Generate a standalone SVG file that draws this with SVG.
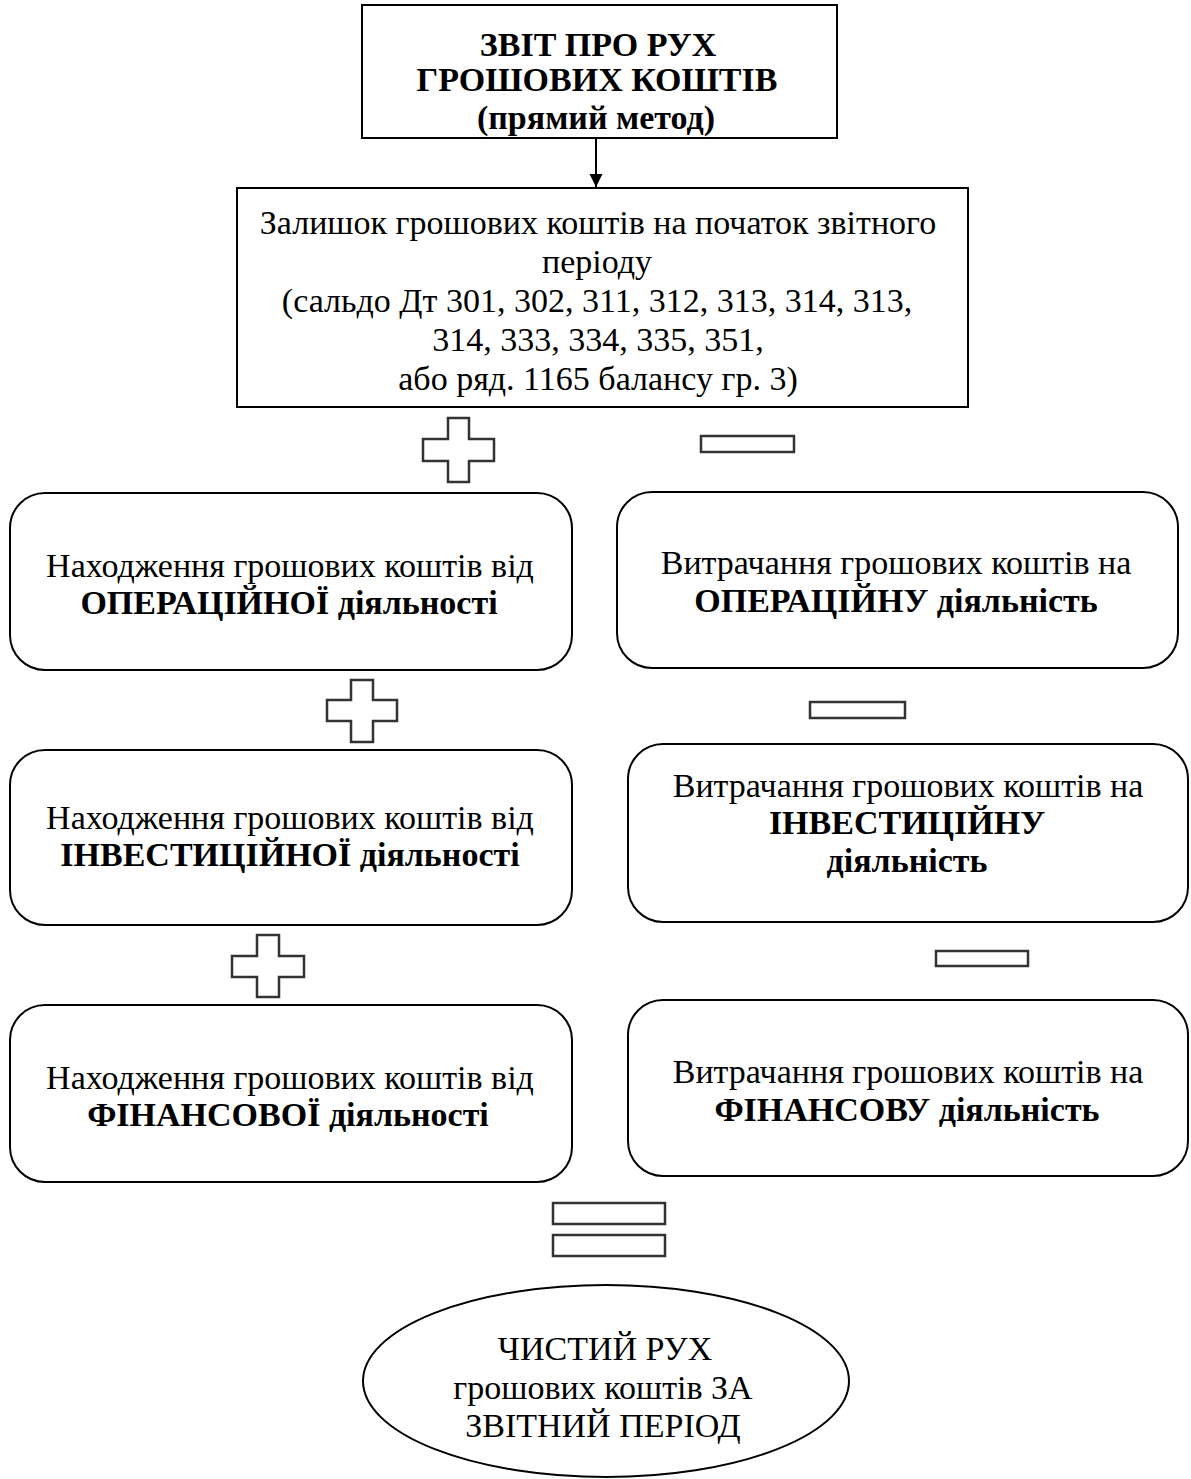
<svg xmlns="http://www.w3.org/2000/svg" width="1191" height="1479" viewBox="0 0 1191 1479">
<style>
.box{fill:#fff;stroke:#000;stroke-width:2}
.sym{fill:#fff;stroke:#333;stroke-width:2.5}
.t{font-family:"Liberation Serif","Times New Roman",serif;font-size:34px;fill:#000;text-anchor:middle}
.b{font-weight:bold}
</style>
<defs>
<marker id="arr" markerWidth="14" markerHeight="14" refX="13" refY="6.5" orient="auto" markerUnits="userSpaceOnUse">
<path d="M0,0 L13,6.5 L0,13 Z" fill="#000"/>
</marker>
</defs>
<rect width="1191" height="1479" fill="#fff"/>
<g id="connectors">
<line x1="596" y1="138" x2="596" y2="187" stroke="#000" stroke-width="2" marker-end="url(#arr)"/>
</g>
<g id="title">
<rect class="box" x="362" y="5" width="475" height="133"/>
<text class="t b" x="598" y="56">ЗВІТ ПРО РУХ</text>
<text class="t b" x="597" y="91">ГРОШОВИХ КОШТІВ</text>
<text class="t b" x="596" y="129">(прямий метод)</text>
</g>
<g id="balance">
<rect class="box" x="237" y="188" width="731" height="219"/>
<text class="t" x="598" y="234">Залишок грошових коштів на початок звітного</text>
<text class="t" x="597" y="273">періоду</text>
<text class="t" x="597" y="312">(сальдо Дт 301, 302, 311, 312, 313, 314, 313,</text>
<text class="t" x="598" y="351">314, 333, 334, 335, 351,</text>
<text class="t" x="598" y="390">або ряд. 1165 балансу гр. 3)</text>
</g>
<g id="plus1"><path class="sym" d="M448,418 H469 V439 H494 V461 H469 V482 H448 V461 H423 V439 H448 Z"/></g>
<g id="minus1"><rect class="sym" x="701" y="436" width="93" height="16"/></g>
<g id="in-oper">
<rect class="box" x="10" y="493" width="562" height="177" rx="35"/>
<text class="t" x="290" y="577">Находження грошових коштів від</text>
<text class="t b" x="289" y="614">ОПЕРАЦІЙНОЇ діяльності</text>
</g>
<g id="out-oper">
<rect class="box" x="617" y="492" width="561" height="176" rx="35"/>
<text class="t" x="896" y="574">Витрачання грошових коштів на</text>
<text class="t b" x="896" y="612">ОПЕРАЦІЙНУ діяльність</text>
</g>
<g id="plus2"><path class="sym" d="M351,680 H373 V700 H397 V721 H373 V742 H351 V721 H327 V700 H351 Z"/></g>
<g id="minus2"><rect class="sym" x="810" y="702" width="95" height="16"/></g>
<g id="in-inv">
<rect class="box" x="10" y="750" width="562" height="175" rx="35"/>
<text class="t" x="290" y="829">Находження грошових коштів від</text>
<text class="t b" x="290" y="866">ІНВЕСТИЦІЙНОЇ діяльності</text>
</g>
<g id="out-inv">
<rect class="box" x="628" y="744" width="560" height="178" rx="35"/>
<text class="t" x="908" y="797">Витрачання грошових коштів на</text>
<text class="t b" x="907" y="834">ІНВЕСТИЦІЙНУ</text>
<text class="t b" x="907" y="872">діяльність</text>
</g>
<g id="plus3"><path class="sym" d="M257,935 H279 V956 H304 V977 H279 V997 H257 V977 H232 V956 H257 Z"/></g>
<g id="minus3"><rect class="sym" x="936" y="951" width="92" height="15"/></g>
<g id="in-fin">
<rect class="box" x="10" y="1005" width="562" height="177" rx="35"/>
<text class="t" x="290" y="1089">Находження грошових коштів від</text>
<text class="t b" x="288" y="1126">ФІНАНСОВОЇ діяльності</text>
</g>
<g id="out-fin">
<rect class="box" x="628" y="1000" width="560" height="176" rx="35"/>
<text class="t" x="908" y="1083">Витрачання грошових коштів на</text>
<text class="t b" x="907" y="1121">ФІНАНСОВУ діяльність</text>
</g>
<g id="equals">
<rect class="sym" x="553" y="1203" width="112" height="21"/>
<rect class="sym" x="553" y="1235" width="112" height="21"/>
</g>
<g id="result">
<ellipse class="box" cx="606" cy="1381" rx="243" ry="96"/>
<text class="t" x="605" y="1360">ЧИСТИЙ РУХ</text>
<text class="t" x="603" y="1399">грошових коштів ЗА</text>
<text class="t" x="603" y="1437">ЗВІТНИЙ ПЕРІОД</text>
</g>
</svg>
